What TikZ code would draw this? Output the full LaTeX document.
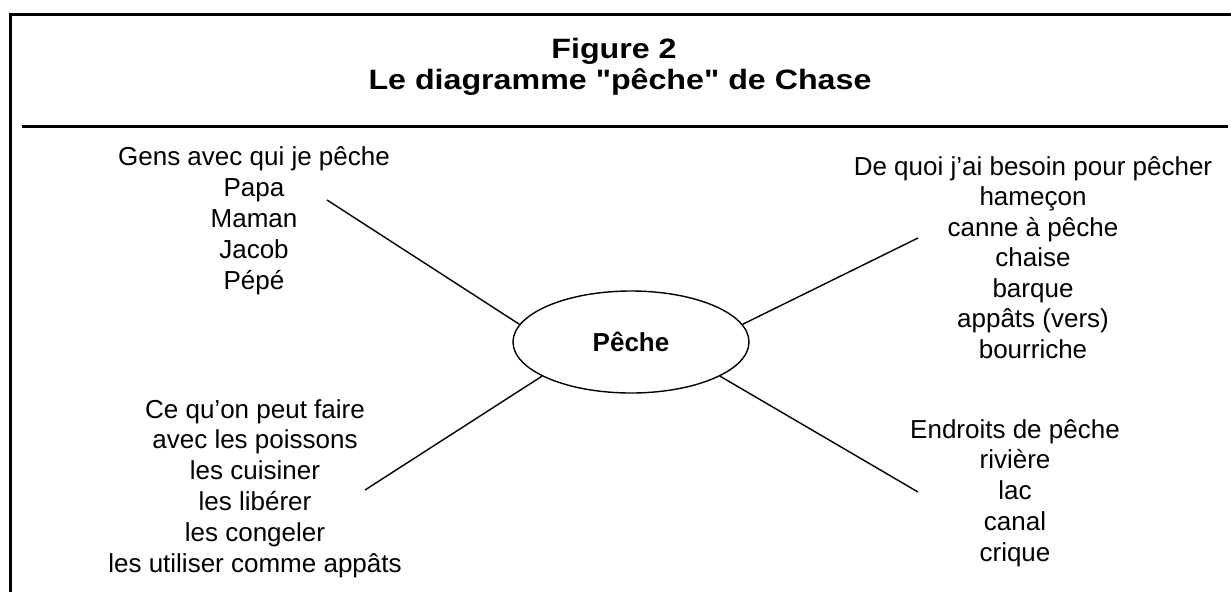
\documentclass[tikz,border=0pt]{standalone}
\usepackage{fontspec}
\usepackage{graphicx}
\setmainfont{Liberation Sans}
\usetikzlibrary{shapes.geometric}
\newcommand{\widetitle}[1]{\scalebox{1.15}[1]{#1}}
\begin{document}
\begin{tikzpicture}[x=1pt,y=-1pt,
  frame/.style={line width=3pt},
  conn/.style={line width=1.4pt},
  lbl/.style={anchor=base, inner sep=0pt, font=\fontsize{26}{31}\selectfont},
  ttl/.style={anchor=base, inner sep=0pt, font=\fontsize{28}{34}\selectfont\bfseries},
  hub/.style={draw, ellipse, line width=1.4pt, minimum width=236pt, minimum height=102pt, inner sep=0pt, font=\fontsize{26}{31}\selectfont\bfseries}]
\useasboundingbox (0,0) rectangle (1231,592);
\draw[frame] (10.5,592) -- (10.5,14.5) -- (1231,14.5);
\draw[frame] (22,126) -- (1228,126);
\node[ttl] (t1) at (614,58) {\widetitle{Figure 2}};
\node[ttl] (t2) at (620,89) {\widetitle{Le diagramme \textquotedbl pêche\textquotedbl\ de Chase}};
\node[hub] (hub) at (631,342) {Pêche};
\foreach \t [count=\i] in {{Gens avec qui je pêche},{Papa},{Maman},{Jacob},{Pépé}}
  \node[lbl] (gl\i) at ({254},{165+31*(\i-1)}) {\t};
\foreach \t [count=\i] in {{De quoi j'ai besoin pour pêcher},{hameçon},{canne à pêche},{chaise},{barque},{appâts (vers)},{bourriche}}
  \node[lbl] (dr\i) at ({1033},{175+30.5*(\i-1)}) {\t};
\foreach \t [count=\i] in {{Ce qu'on peut faire},{avec les poissons},{les cuisiner},{les libérer},{les congeler},{les utiliser comme appâts}}
  \node[lbl] (cl\i) at ({255},{418+30.8*(\i-1)}) {\t};
\foreach \t [count=\i] in {{Endroits de pêche},{rivière},{lac},{canal},{crique}}
  \node[lbl] (er\i) at ({1015},{438+30.8*(\i-1)}) {\t};
\coordinate (ptl) at (327,200);
\coordinate (ptr) at (918,238);
\coordinate (pbl) at (365,490);
\coordinate (pbr) at (918,492);
\draw[conn] (ptl) -- (hub.171.4);
\draw[conn] (ptr) -- (hub.9.9);
\draw[conn] (pbl) -- (hub.201);
\draw[conn] (pbr) -- (hub.339.4);
\end{tikzpicture}
\end{document}
